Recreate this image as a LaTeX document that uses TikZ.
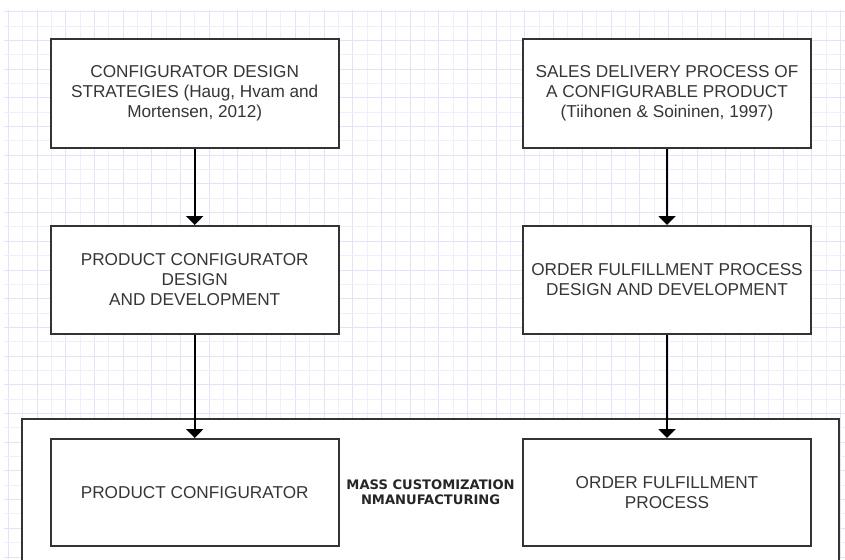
\documentclass[tikz,border=0pt]{standalone}
\usepackage{fontspec}
\setmainfont{Liberation Sans}
\newfontfamily\labelfont{DejaVu Sans}
\usetikzlibrary{arrows.meta}
\definecolor{gridmajor}{HTML}{E2E2F8}
\definecolor{gridminor}{HTML}{EFEFFB}
\definecolor{edge}{HTML}{333333}
\definecolor{ink}{HTML}{363636}
\tikzset{
  stagebox/.style={draw=edge, line width=2pt, fill=white, inner sep=0pt,
    minimum width=288pt, minimum height=108pt, align=center, text=ink,
    font=\fontsize{17.2}{20}\selectfont},
  groupbox/.style={draw=edge, line width=2pt, fill=white, inner sep=0pt,
    minimum width=816.7pt, minimum height=146pt, align=center, text=black!85,
    font=\labelfont\bfseries\fontsize{13.1}{15}\selectfont},
  flow/.style={draw=black, line width=2pt, -{Triangle[width=17pt,length=9pt]}}
}
\begin{document}
\begin{tikzpicture}[x=1pt,y=-1pt]
\useasboundingbox (0,0) rectangle (845,559);
\clip (0,0) rectangle (845,559);
\fill[white] (0,0) rectangle (845,559);
% background grid, alternating line tones
\foreach \i in {0,...,58}{
  \pgfmathsetmacro{\gx}{8.3+14.35*\i}
  \pgfmathparse{int(mod(\i,2))}
  \ifnum\pgfmathresult=0
    \draw[gridmajor, line width=1pt] (\gx,10) -- (\gx,559);
  \else
    \draw[gridminor, line width=1pt] (\gx,10) -- (\gx,559);
  \fi
}
\foreach \j in {0,...,38}{
  \pgfmathsetmacro{\gy}{11.7+14.35*\j}
  \pgfmathparse{int(mod(\j,2))}
  \ifnum\pgfmathresult=0
    \draw[gridmajor, line width=1pt] (4,\gy) -- (845,\gy);
  \else
    \draw[gridminor, line width=1pt] (4,\gy) -- (845,\gy);
  \fi
}
% enclosing group
\node[groupbox] (mc) at (430.6,492.3) {MASS CUSTOMIZATION\\NMANUFACTURING};
% top row
\node[stagebox] (cds) at (194.7,93.5) {CONFIGURATOR DESIGN\\STRATEGIES (Haug, Hvam and\\Mortensen, 2012)};
\node[stagebox] (sdp) at (667,93.5) {SALES DELIVERY PROCESS OF\\A CONFIGURABLE PRODUCT\\(Tiihonen \& Soininen, 1997)};
% middle row
\node[stagebox] (pcd) at (194.7,280) {PRODUCT CONFIGURATOR\\DESIGN\\AND DEVELOPMENT};
\node[stagebox] (ofd) at (667,280) {ORDER FULFILLMENT PROCESS\\DESIGN AND DEVELOPMENT};
% bottom row
\node[stagebox, minimum height=107pt] (pc) at (194.7,492.5) {PRODUCT CONFIGURATOR};
\node[stagebox, minimum height=107pt] (ofp) at (667,492.5) {ORDER FULFILLMENT\\PROCESS};
% connectors
\draw[flow] (cds) -- (pcd);
\draw[flow] (pcd) -- (pc);
\draw[flow] (sdp) -- (ofd);
\draw[flow] (ofd) -- (ofp);
\end{tikzpicture}
\end{document}
